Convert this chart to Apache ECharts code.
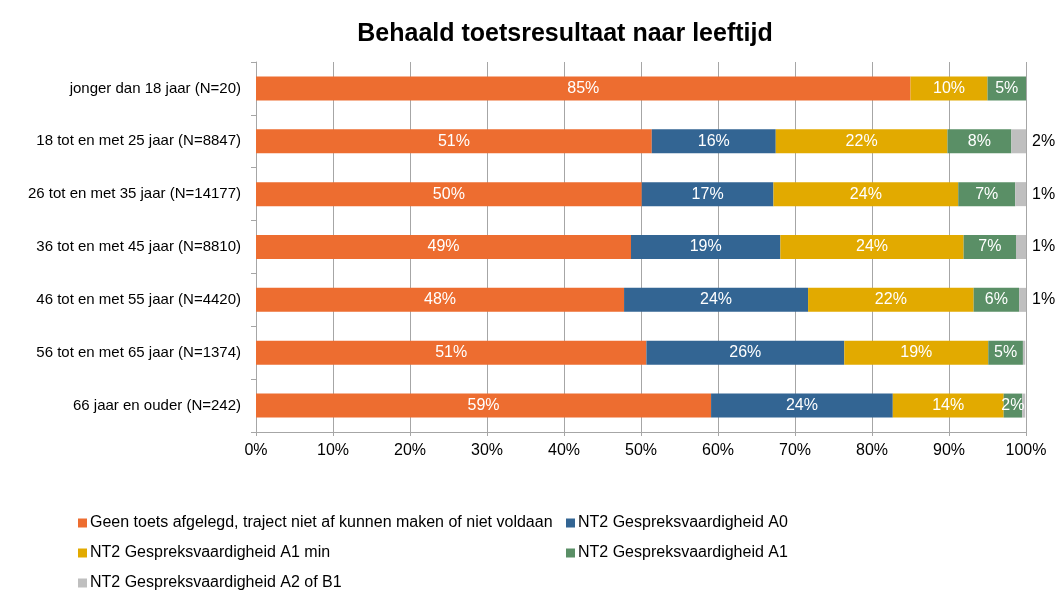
<!DOCTYPE html>
<html><head><meta charset="utf-8">
<script src="https://cdn.jsdelivr.net/npm/echarts@6/dist/echarts.min.js"></script>
<style>html,body{margin:0;padding:0;background:#fff}#c{width:1058px;height:590px}</style>
</head><body><div id="c"></div>
<script>
const categories = [
  "jonger dan 18 jaar (N=20)",
  "18 tot en met 25 jaar (N=8847)",
  "26 tot en met 35 jaar (N=14177)",
  "36 tot en met 45 jaar (N=8810)",
  "46 tot en met 55 jaar (N=4420)",
  "56 tot en met 65 jaar (N=1374)",
  "66 jaar en ouder (N=242)"
];
const seriesNames = [
  "Geen toets afgelegd, traject niet af kunnen maken of niet voldaan",
  "NT2 Gespreksvaardigheid A0",
  "NT2 Gespreksvaardigheid A1 min",
  "NT2 Gespreksvaardigheid A1",
  "NT2 Gespreksvaardigheid A2 of B1"
];
const geenToets = [85.0, 51.4, 50.1, 48.7, 47.8, 50.7, 59.1];
const a0        = [0,    16.1, 17.1, 19.4, 23.9, 25.7, 23.6];
const a1min     = [10.0, 22.3, 24.0, 23.8, 21.5, 18.7, 14.4];
const a1        = [5.0,  8.3,  7.4,  6.8,  5.9,  4.5,  2.4];
const a2b1      = [0,    1.9,  1.4,  1.3,  0.9,  0.3,  0.4];
const xTicks = [0, 10, 20, 30, 40, 50, 60, 70, 80, 90, 100];

const colors = ["#ed6d30", "#336593", "#e2aa00", "#5a8f66", "#bfbfbf"];
const allData = [geenToets, a0, a1min, a1, a2b1];
const font = "Liberation Sans, Arial, sans-serif";

const chart = echarts.init(document.getElementById('c'), null, {renderer: 'canvas'});
const series = allData.map((d, i) => ({
  name: seriesNames[i],
  type: 'bar',
  stack: 'total',
  data: d.slice().reverse(),
  barWidth: 24,
  itemStyle: {color: colors[i]},
  label: {
    show: true,
    position: i === 4 ? 'right' : 'inside',
    distance: i === 4 ? 6 : 5,
    color: i === 4 ? '#000' : '#fff',
    fontFamily: font,
    fontSize: 16,
    formatter: p => (p.value >= (i === 4 ? 0.5 : 1) ? Math.round(p.value) + '%' : '')
  }
}));

const legendPos = [
  {left: 78, top: 515},
  {left: 566, top: 515},
  {left: 78, top: 545},
  {left: 566, top: 545},
  {left: 78, top: 575}
];
const legends = seriesNames.map((n, i) => ({
  data: [n],
  left: legendPos[i].left,
  top: legendPos[i].top,
  itemWidth: 9, itemHeight: 9, itemGap: 0,
  icon: 'rect',
  selectedMode: false,
  textStyle: {fontFamily: font, fontSize: 16, color: '#000', padding: [0, 0, 0, -2]},
  padding: 0
}));

chart.setOption({
  animation: false,
  backgroundColor: '#fff',
  title: {
    text: 'Behaald toetsresultaat naar leeftijd',
    left: 560, top: 17, textAlign: 'center',
    textStyle: {fontFamily: font, fontSize: 25, fontWeight: 'bold', color: '#000'}
  },
  legend: legends,
  grid: {left: 256, right: 32, top: 62, bottom: 158, containLabel: false},
  xAxis: {
    type: 'value', min: 0, max: 100, interval: 10,
    axisLabel: {formatter: v => xTicks.includes(v) ? v + '%' : '', fontFamily: font, fontSize: 16, color: '#000', margin: 11},
    axisLine: {show: true, lineStyle: {color: '#a6a6a6'}},
    axisTick: {show: true, length: 4, lineStyle: {color: '#a6a6a6'}},
    splitLine: {show: true, lineStyle: {color: '#a6a6a6', width: 1}}
  },
  yAxis: {
    type: 'category',
    data: categories.slice().reverse(),
    axisLabel: {fontFamily: font, fontSize: 15, color: '#000', margin: 15},
    axisLine: {show: true, lineStyle: {color: '#a6a6a6'}},
    axisTick: {show: true, length: 5, lineStyle: {color: '#a6a6a6'}}
  },
  series: series
});
</script>
</body></html>
